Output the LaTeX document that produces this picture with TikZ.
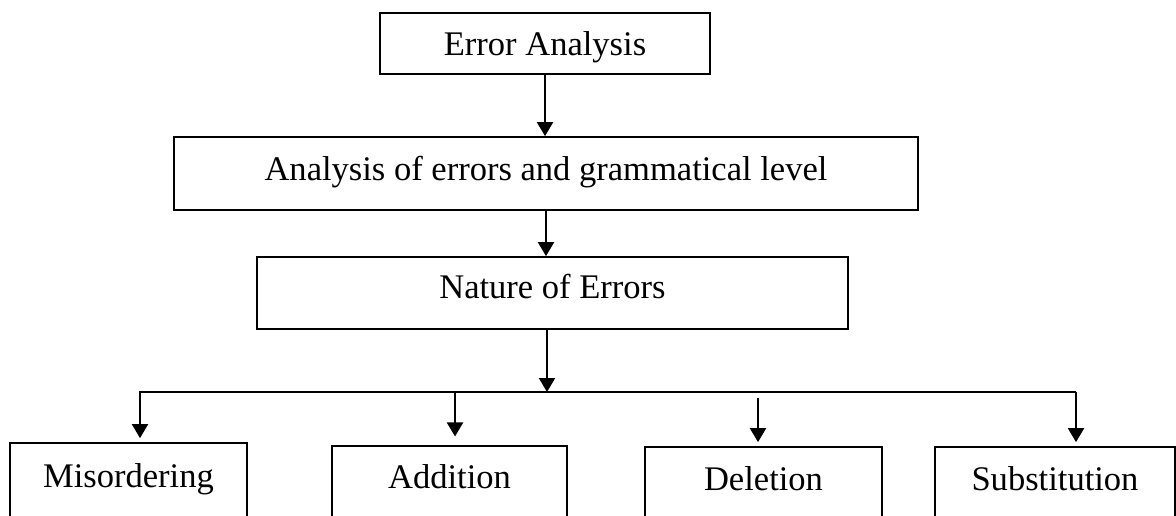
\documentclass[tikz,border=0pt]{standalone}
\usepackage{fontspec}
\setmainfont{Liberation Serif}
\usetikzlibrary{arrows.meta}
\begin{document}
\begin{tikzpicture}[x=0.75pt,y=-0.75pt,
  box/.style={draw, line width=1.3pt, inner xsep=0pt, inner ysep=0pt, anchor=base,
              font=\fontsize{25.9}{30}\selectfont},
  arr/.style={-{Triangle[width=12pt,length=10.5pt]}, line width=1.5pt},
  ln/.style={line width=1.5pt}]
\clip (0,0) rectangle (1176,515);
\fill[white] (0,0) rectangle (1176,515);
% top chain
\node[box, minimum width=247.5pt, text height=31.5pt, text depth=14.25pt] (EA) at (545,55) {Error Analysis};
\node[box, minimum width=558pt, text height=32.25pt, text depth=22.5pt] (AE) at (546,180) {Analysis of errors and grammatical level};
\node[box, minimum width=443.25pt, text height=30.75pt, text depth=23.25pt] (NE) at (552.5,298) {Nature of Errors};
% bottom row
\node[box, minimum width=177.75pt, text height=33pt, text depth=45pt] (Mis) at (128.5,487) {Misordering};
\node[box, minimum width=176.25pt, text height=31.5pt, text depth=45pt] (Add) at (449.5,488) {Addition};
\node[box, minimum width=177.75pt, text height=32.25pt, text depth=45pt] (Del) at (763.5,490) {Deletion};
\node[box, minimum width=180pt, text height=32.25pt, text depth=45pt] (Sub) at (1055,490) {Substitution};
% junction coordinates
\coordinate (hub) at (547,392);
\coordinate (Lc) at (140,392);
\coordinate (Rc) at (1076,392);
\coordinate (Ac) at (455,392);
\coordinate (Dc) at (758,398);
% connectors
\draw[arr] (EA.south) -- (EA.south |- AE.north);
\draw[arr] (AE.south) -- (AE.south |- NE.north);
\draw[arr] (NE.south -| hub) -- (hub);
\draw[arr, shorten >=3pt] (Rc) -- (Lc) -- (Lc |- Mis.north);
\draw[arr, shorten >=3pt] (Rc) -- (Rc |- Sub.north);
\draw[arr, shorten >=6.5pt] (Ac) -- (Ac |- Add.north);
\draw[arr, shorten >=3pt] (Dc) -- (Dc |- Del.north);
\end{tikzpicture}
\end{document}
